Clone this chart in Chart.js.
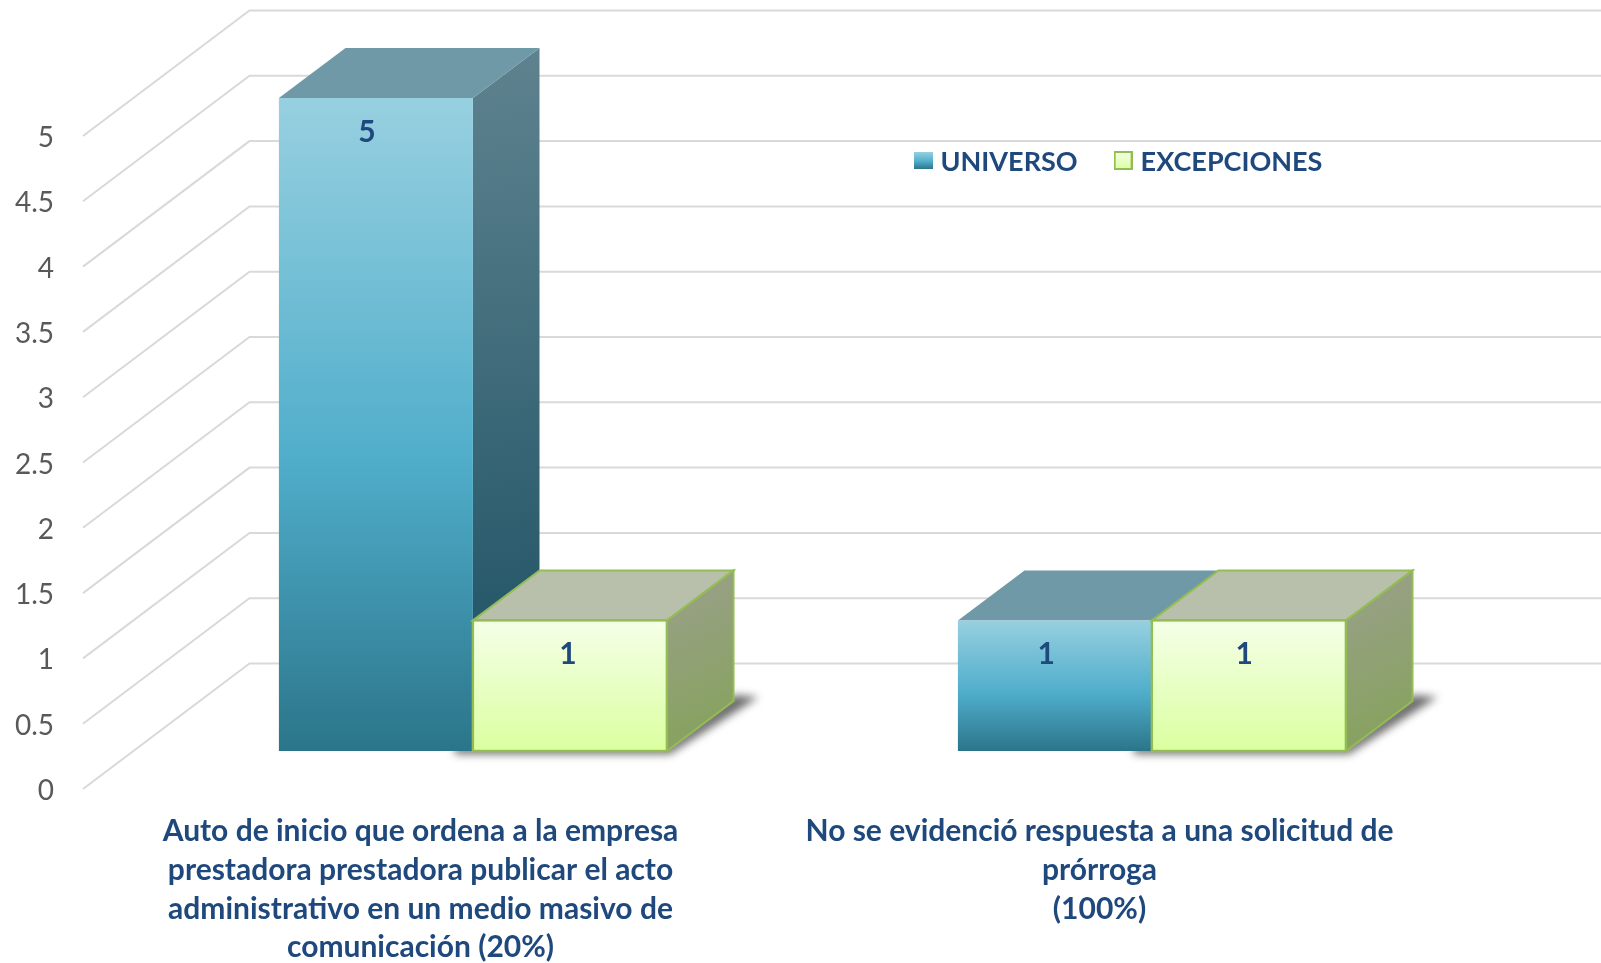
<!DOCTYPE html>
<html><head><meta charset="utf-8">
<style>html,body{margin:0;padding:0;background:#fff}#wrap{width:1601px;height:963px;position:relative}canvas{display:block}</style>
<script src="https://cdn.jsdelivr.net/npm/chart.js@4"></script>
</head><body><div id="wrap"><canvas id="c" width="1601" height="963"></canvas></div>
<script>
const categories = [
  ['Auto de inicio que ordena a la empresa','prestadora prestadora publicar el acto','administrativo en un medio masivo de','comunicación (20%)'],
  ['No se evidenció respuesta a una solicitud de','prórroga','(100%)']
];
const universo = [5, 1];
const excepciones = [1, 1];
const seriesNames = ['UNIVERSO', 'EXCEPCIONES'];

const FONT = 'Lato, Carlito, sans-serif';
const NAVY = '#1F497D';
const WALL = {dx:166.5, dy:-125.5};      // front edge of floor to back wall
const SHIFT = {dx:50.4, dy:-38};         // bars stand this far into the floor
const DEPTH = {dx:66.6, dy:-50};         // depth of each bar
const labelNudge = [[-9,-8.7],[-2,-4.7]];
const blueFront = [[0,'#97D0E0'],[.55,'#50AECB'],[1,'#2B758A']];
const greenFront = [[0,'#F5FFE8'],[1,'#DBFFA0']];
const skins = [
  {top:'#6F99A6', sideA:'#5F838F', sideB:'#1E5264', line:null},
  {top:'#B8C0AC', sideA:'#9BA08C', sideB:'#89A264', line:'#93BC52'}
];

function frontFill(stops){
  return ctx=>{
    const c=ctx.chart; if(!c.chartArea||!ctx.parsed) return stops[0][1];
    const y=c.scales.y;
    const g=c.ctx.createLinearGradient(0,y.getPixelForValue(ctx.parsed.y),0,y.getPixelForValue(0));
    stops.forEach(s=>g.addColorStop(s[0],s[1]));
    return g;
  };
}
function swatch(stops,line){
  const h=line?19:17, s=document.createElement('canvas'); s.width=19; s.height=h+4;
  const x=s.getContext('2d'), g=x.createLinearGradient(0,0,0,h);
  stops.forEach(t=>g.addColorStop(t[0],t[1]));
  x.fillStyle=g; x.fillRect(0,0,19,h);
  if(line){x.strokeStyle=line; x.lineWidth=2; x.strokeRect(1,1,17,h-2);}
  return s;
}
const swatches=[swatch(blueFront,null),swatch(greenFront,'#93BC52')];

function poly(ctx,pts){ctx.beginPath();pts.forEach((p,i)=>i?ctx.lineTo(p[0],p[1]):ctx.moveTo(p[0],p[1]));ctx.closePath();}

const wallsAndBoxes={
  id:'wallsAndBoxes',
  beforeLayout(chart){
    const l=chart.legend;
    if(l && !l._flat){const f=l.fit.bind(l); l.fit=()=>{f(); l.height=0;}; l._flat=true;}
  },
  afterLayout(chart){
    const l=chart.legend, p=l.options.labels.padding;
    l.left=919-p; l.right=1601; l.top=149-p; l.bottom=190;
  },
  beforeDatasetsDraw(chart){
    const ctx=chart.ctx, y=chart.scales.y, a=chart.chartArea;
    ctx.save();
    ctx.strokeStyle='#D9D9D9'; ctx.lineWidth=2; ctx.lineJoin='miter';
    y.ticks.forEach(t=>{
      const p=y.getPixelForValue(t.value);
      ctx.beginPath();
      ctx.moveTo(a.left,p);
      ctx.lineTo(a.left+WALL.dx,p+WALL.dy);
      ctx.lineTo(chart.width,p+WALL.dy);
      ctx.stroke();
    });
    ctx.restore();
  },
  // Left bar must be painted first so the right bar's top can overlap it.
  beforeDatasetDraw(){ return false; },
  afterDatasetsDraw(chart){
    const ctx=chart.ctx, d=DEPTH;
    ctx.save();
    ctx.translate(SHIFT.dx,SHIFT.dy);
    chart.getDatasetMeta(1).data.forEach(b=>{
      const l=b.x-b.width/2, r=b.x+b.width/2, f=b.base;
      ctx.save();
      ctx.filter='blur(4px)'; ctx.fillStyle='rgba(0,0,0,.58)';
      poly(ctx,[[l-18,f+3],[r+3,f+3],[r+d.dx+25,f+d.dy-4],[r+d.dx,f+d.dy-6],[r,f-6],[l-18,f-6]]);
      ctx.fill();
      ctx.restore();
    });
    [0,1].forEach(i=>{
      const s=skins[i], meta=chart.getDatasetMeta(i);
      meta.data.forEach(b=>{
        const l=b.x-b.width/2, r=b.x+b.width/2, t=b.y, f=b.base;
        const g=ctx.createLinearGradient(r,t+d.dy,r+d.dx,f+d.dy);
        g.addColorStop(0,s.sideA); g.addColorStop(1,s.sideB);
        ctx.fillStyle=g;
        poly(ctx,[[r,t],[r+d.dx,t+d.dy],[r+d.dx,f+d.dy],[r,f]]);
        ctx.fill();
        if(s.line){ctx.strokeStyle=s.line;ctx.lineWidth=2;ctx.stroke();}
        ctx.fillStyle=s.top;
        poly(ctx,[[l,t],[l+d.dx,t+d.dy],[r+d.dx,t+d.dy],[r,t]]);
        ctx.fill();
        if(s.line){ctx.strokeStyle=s.line;ctx.lineWidth=2;ctx.stroke();}
      });
      meta.controller.draw();
      if(s.line){
        meta.data.forEach(b=>{
          ctx.strokeStyle=s.line; ctx.lineWidth=2.4;
          ctx.strokeRect(b.x-b.width/2,b.y,b.width,b.base-b.y);
        });
      }
    });
    ctx.fillStyle=NAVY; ctx.font='bold 30px '+FONT; ctx.textAlign='center'; ctx.textBaseline='middle';
    [0,1].forEach(i=>{
      const data=chart.data.datasets[i].data;
      chart.getDatasetMeta(i).data.forEach((b,j)=>{
        ctx.fillText(String(data[j]),b.x+labelNudge[i][j],b.y+34);
      });
    });
    ctx.restore();
  }
};

new Chart(document.getElementById('c'),{
  type:'bar',
  data:{labels:categories,datasets:[
    {label:seriesNames[0],data:universo,backgroundColor:frontFill(blueFront),borderWidth:0},
    {label:seriesNames[1],data:excepciones,backgroundColor:frontFill(greenFront),borderWidth:0}
  ]},
  plugins:[wallsAndBoxes],
  options:{
    responsive:false,animation:false,
    layout:{padding:{top:136,left:0,right:160,bottom:0}},
    categoryPercentage:.5714,barPercentage:1,
    scales:{
      x:{
        grid:{display:false},border:{display:false},
        ticks:{color:NAVY,font:{family:FONT,size:30,weight:'bold',lineHeight:1.293},padding:15,labelOffset:-2,maxRotation:0,autoSkip:false},
        afterFit(s){s.height=174;}
      },
      y:{
        min:0,max:5,
        grid:{display:false},border:{display:false},
        ticks:{stepSize:.5,color:'#595959',font:{family:FONT,size:28},padding:21,labelOffset:2,callback:v=>String(v)},
        afterFit(s){s.width=83;}
      }
    },
    plugins:{
      tooltip:{enabled:false},
      legend:{
        position:'top',align:'start',
        labels:{
          usePointStyle:true,pointStyleWidth:8,padding:41.5,color:NAVY,
          font:{family:FONT,size:27,weight:'bold'},
          generateLabels(c){return c.data.datasets.map((d,i)=>({text:d.label,pointStyle:swatches[i],datasetIndex:i,hidden:false,fontColor:NAVY,lineWidth:0}));}
        }
      }
    }
  }
});
</script></body></html>
